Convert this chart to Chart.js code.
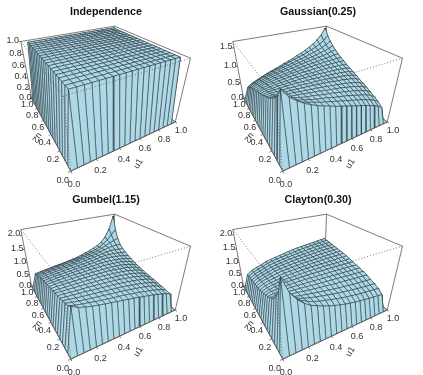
<!DOCTYPE html>
<html lang="en">

<head>
  <meta charset="UTF-8" />
  <title>Copulas</title>
  <script src="https://cdn.jsdelivr.net/npm/chart.js"></script>
  <style>
    body { margin: 0; background: #fff; }
    #page { position: relative; width: 423px; height: 375px; overflow: hidden; }
    #page div { position: absolute; width: 212px; height: 188px; }
  </style>
</head>

<body>
  <div id="page">
    <div style="left:0;top:0"><canvas id="c0" width="212" height="188"></canvas></div>
    <div style="left:212px;top:0"><canvas id="c1" width="212" height="188"></canvas></div>
    <div style="left:0;top:188px"><canvas id="c2" width="212" height="188"></canvas></div>
    <div style="left:212px;top:188px"><canvas id="c3" width="212" height="188"></canvas></div>
  </div>
  <script>
    // values, rows are u2 = 0.05 ... 0.95, columns u1 = 0.05 ... 0.95
    // the rim of the grid (u = 0 and u = 1) sits on the floor
    const independence = [
      [1,1,1,1,1,1,1,1,1,1,1,1,1,1,1,1,1,1,1],
      [1,1,1,1,1,1,1,1,1,1,1,1,1,1,1,1,1,1,1],
      [1,1,1,1,1,1,1,1,1,1,1,1,1,1,1,1,1,1,1],
      [1,1,1,1,1,1,1,1,1,1,1,1,1,1,1,1,1,1,1],
      [1,1,1,1,1,1,1,1,1,1,1,1,1,1,1,1,1,1,1],
      [1,1,1,1,1,1,1,1,1,1,1,1,1,1,1,1,1,1,1],
      [1,1,1,1,1,1,1,1,1,1,1,1,1,1,1,1,1,1,1],
      [1,1,1,1,1,1,1,1,1,1,1,1,1,1,1,1,1,1,1],
      [1,1,1,1,1,1,1,1,1,1,1,1,1,1,1,1,1,1,1],
      [1,1,1,1,1,1,1,1,1,1,1,1,1,1,1,1,1,1,1],
      [1,1,1,1,1,1,1,1,1,1,1,1,1,1,1,1,1,1,1],
      [1,1,1,1,1,1,1,1,1,1,1,1,1,1,1,1,1,1,1],
      [1,1,1,1,1,1,1,1,1,1,1,1,1,1,1,1,1,1,1],
      [1,1,1,1,1,1,1,1,1,1,1,1,1,1,1,1,1,1,1],
      [1,1,1,1,1,1,1,1,1,1,1,1,1,1,1,1,1,1,1],
      [1,1,1,1,1,1,1,1,1,1,1,1,1,1,1,1,1,1,1],
      [1,1,1,1,1,1,1,1,1,1,1,1,1,1,1,1,1,1,1],
      [1,1,1,1,1,1,1,1,1,1,1,1,1,1,1,1,1,1,1],
      [1,1,1,1,1,1,1,1,1,1,1,1,1,1,1,1,1,1,1]
    ];
    const gaussian = [
      [1.66,1.47,1.35,1.25,1.17,1.10,1.04,.99,.93,.885,.84,.79,.74,.70,.65,.60,.54,.48,.39],
      [1.47,1.34,1.26,1.19,1.14,1.09,1.04,1.00,.96,.92,.88,.84,.80,.76,.72,.67,.62,.56,.48],
      [1.35,1.26,1.20,1.15,1.11,1.07,1.03,1.00,.97,.93,.90,.87,.84,.80,.76,.72,.68,.62,.54],
      [1.25,1.19,1.15,1.12,1.08,1.05,1.03,1.00,.97,.95,.92,.89,.86,.83,.80,.76,.72,.67,.60],
      [1.17,1.14,1.11,1.08,1.06,1.04,1.02,1.00,.98,.95,.93,.91,.89,.86,.83,.80,.76,.72,.65],
      [1.10,1.09,1.07,1.05,1.04,1.02,1.01,.99,.98,.96,.94,.92,.90,.88,.86,.83,.80,.76,.70],
      [1.04,1.04,1.03,1.03,1.02,1.01,1.00,.99,.98,.96,.95,.94,.92,.90,.89,.86,.84,.80,.74],
      [.99,1.00,1.00,1.00,1.00,.99,.99,.98,.97,.97,.96,.95,.94,.92,.91,.89,.87,.84,.79],
      [.93,.96,.97,.97,.98,.98,.98,.97,.97,.97,.96,.96,.95,.94,.93,.92,.90,.88,.84],
      [.885,.92,.93,.95,.95,.96,.96,.97,.97,.97,.97,.97,.96,.96,.95,.95,.93,.92,.885],
      [.84,.88,.90,.92,.93,.94,.95,.96,.96,.97,.97,.97,.98,.98,.98,.97,.97,.96,.93],
      [.79,.84,.87,.89,.91,.92,.94,.95,.96,.97,.97,.98,.99,.99,1.00,1.00,1.00,1.00,.99],
      [.74,.80,.84,.86,.89,.90,.92,.94,.95,.96,.98,.99,1.00,1.01,1.02,1.03,1.03,1.04,1.04],
      [.70,.76,.80,.83,.86,.88,.90,.92,.94,.96,.98,.99,1.01,1.02,1.04,1.05,1.07,1.09,1.10],
      [.65,.72,.76,.80,.83,.86,.89,.91,.93,.95,.98,1.00,1.02,1.04,1.06,1.08,1.11,1.14,1.17],
      [.60,.67,.72,.76,.80,.83,.86,.89,.92,.95,.97,1.00,1.03,1.05,1.08,1.12,1.15,1.19,1.25],
      [.54,.62,.68,.72,.76,.80,.84,.87,.90,.93,.97,1.00,1.03,1.07,1.11,1.15,1.20,1.26,1.35],
      [.48,.56,.62,.67,.72,.76,.80,.84,.88,.92,.96,1.00,1.04,1.09,1.14,1.19,1.26,1.34,1.47],
      [.39,.48,.54,.60,.65,.70,.74,.79,.84,.885,.93,.99,1.04,1.10,1.17,1.25,1.35,1.47,1.66]
    ];
    const gumbel = [
      [1.44,1.33,1.27,1.22,1.18,1.14,1.11,1.07,1.04,1.00,.97,.93,.89,.85,.81,.76,.71,.65,.585],
      [1.33,1.27,1.23,1.20,1.16,1.13,1.10,1.07,1.05,1.02,.99,.95,.92,.88,.84,.80,.75,.69,.61],
      [1.27,1.23,1.20,1.17,1.15,1.12,1.10,1.07,1.05,1.03,1.00,.97,.94,.91,.87,.83,.78,.72,.64],
      [1.22,1.20,1.17,1.15,1.13,1.11,1.09,1.07,1.05,1.03,1.01,.98,.95,.92,.89,.85,.80,.74,.66],
      [1.18,1.16,1.15,1.13,1.13,1.10,1.09,1.07,1.05,1.04,1.02,.99,.97,.94,.91,.87,.83,.77,.69],
      [1.14,1.13,1.12,1.11,1.10,1.10,1.08,1.07,1.06,1.04,1.03,1.01,.98,.96,.93,.89,.85,.79,.71],
      [1.11,1.10,1.10,1.09,1.09,1.08,1.08,1.07,1.06,1.05,1.03,1.02,1.00,.97,.95,.91,.87,.81,.73],
      [1.07,1.07,1.07,1.07,1.07,1.07,1.07,1.06,1.06,1.05,1.04,1.03,1.01,.99,.97,.93,.89,.84,.76],
      [1.04,1.05,1.05,1.05,1.05,1.06,1.06,1.06,1.055,1.05,1.05,1.04,1.02,1.00,.98,.96,.91,.86,.79],
      [1.00,1.02,1.03,1.03,1.04,1.04,1.05,1.05,1.05,1.05,1.05,1.04,1.04,1.02,1.01,.98,.94,.88,.82],
      [.97,.99,1.00,1.01,1.02,1.03,1.03,1.04,1.05,1.05,1.06,1.06,1.05,1.04,1.03,1.01,.97,.92,.87],
      [.93,.95,.97,.98,.99,1.01,1.02,1.03,1.04,1.04,1.06,1.07,1.07,1.06,1.05,1.03,1.00,.96,.92],
      [.89,.92,.94,.95,.97,.98,1.00,1.01,1.02,1.04,1.05,1.07,1.09,1.09,1.08,1.06,1.04,1.00,.97],
      [.85,.88,.91,.92,.94,.96,.97,.99,1.00,1.02,1.04,1.06,1.09,1.11,1.11,1.10,1.08,1.05,1.04],
      [.81,.84,.87,.89,.91,.93,.95,.97,.98,1.01,1.03,1.05,1.08,1.11,1.13,1.15,1.14,1.12,1.11],
      [.76,.80,.83,.85,.87,.89,.91,.93,.96,.98,1.01,1.03,1.06,1.10,1.15,1.19,1.21,1.22,1.22],
      [.71,.75,.78,.80,.83,.85,.87,.89,.91,.94,.97,1.00,1.04,1.08,1.14,1.21,1.29,1.34,1.40],
      [.65,.69,.72,.74,.77,.79,.81,.84,.86,.88,.92,.96,1.00,1.05,1.12,1.22,1.34,1.52,1.69],
      [.585,.61,.64,.66,.69,.71,.73,.76,.79,.82,.87,.92,.97,1.04,1.11,1.22,1.40,1.69,2.19]
    ];
    const clayton = [
      [2.17,1.72,1.47,1.29,1.16,1.07,.99,.92,.86,.81,.76,.72,.69,.66,.635,.61,.59,.57,.547],
      [1.72,1.51,1.37,1.25,1.16,1.08,1.02,.98,.93,.89,.85,.82,.79,.76,.74,.72,.70,.68,.67],
      [1.47,1.37,1.28,1.20,1.13,1.08,1.04,1.00,.97,.93,.90,.87,.85,.82,.80,.78,.76,.75,.74],
      [1.29,1.25,1.20,1.14,1.10,1.07,1.04,1.01,.98,.96,.93,.91,.89,.87,.85,.84,.83,.81,.80],
      [1.16,1.16,1.13,1.10,1.09,1.06,1.04,1.02,1.00,.99,.97,.95,.94,.93,.915,.90,.89,.88,.87],
      [1.07,1.08,1.08,1.07,1.06,1.05,1.04,1.02,1.01,1.00,.99,.98,.97,.96,.95,.94,.93,.92,.91],
      [.99,1.02,1.04,1.04,1.04,1.04,1.03,1.03,1.02,1.01,1.00,1.00,.99,.98,.98,.97,.96,.96,.95],
      [.92,.98,1.00,1.01,1.02,1.02,1.03,1.03,1.02,1.02,1.02,1.01,1.01,1.01,1.00,1.00,.99,.99,.98],
      [.86,.93,.97,.98,1.00,1.01,1.02,1.02,1.03,1.03,1.03,1.03,1.03,1.03,1.03,1.03,1.02,1.02,1.02],
      [.81,.89,.93,.96,.99,1.00,1.01,1.02,1.03,1.04,1.04,1.04,1.05,1.05,1.05,1.05,1.05,1.05,1.06],
      [.76,.85,.90,.93,.97,.99,1.00,1.02,1.03,1.04,1.05,1.05,1.06,1.06,1.07,1.07,1.08,1.08,1.09],
      [.72,.82,.87,.91,.95,.98,1.00,1.01,1.03,1.04,1.05,1.06,1.07,1.08,1.09,1.09,1.10,1.11,1.12],
      [.69,.79,.85,.89,.94,.97,.99,1.01,1.03,1.05,1.06,1.07,1.08,1.09,1.10,1.11,1.12,1.13,1.14],
      [.66,.76,.82,.87,.93,.96,.98,1.01,1.03,1.05,1.06,1.08,1.09,1.11,1.12,1.13,1.14,1.15,1.16],
      [.635,.74,.80,.85,.915,.95,.98,1.00,1.03,1.05,1.07,1.09,1.10,1.12,1.14,1.15,1.16,1.17,1.18],
      [.61,.72,.78,.84,.90,.94,.97,1.00,1.03,1.05,1.07,1.09,1.11,1.13,1.15,1.16,1.18,1.19,1.20],
      [.59,.70,.76,.83,.89,.93,.96,.99,1.02,1.05,1.08,1.10,1.12,1.14,1.16,1.18,1.19,1.21,1.22],
      [.57,.68,.75,.81,.88,.92,.96,.99,1.02,1.05,1.08,1.11,1.13,1.15,1.17,1.19,1.21,1.23,1.24],
      [.547,.67,.74,.80,.87,.91,.95,.98,1.02,1.06,1.09,1.12,1.14,1.16,1.18,1.20,1.22,1.24,1.26]
    ];
    const gridU = [0,.05,.1,.15,.2,.25,.3,.35,.4,.45,.5,.55,.6,.65,.7,.75,.8,.85,.9,.95,1];
    const uTicks = [0,.2,.4,.6,.8,1];
    const titles = ["Independence", "Gaussian(0.25)", "Gumbel(1.15)", "Clayton(0.30)"];
    const surfaces = [independence, gaussian, gumbel, clayton];
    const zTops = [1, 1.66, 2.19, 2.17];
    const zTicks = [[0,.2,.4,.6,.8,1], [0,.5,1,1.5], [0,.5,1,1.5,2], [0,.5,1,1.5,2]];

    // same view as R persp(theta=-30, phi=30, r=sqrt(3), d=1)
    const theta = -30 * Math.PI / 180, phi = 30 * Math.PI / 180, r = Math.sqrt(3), d = 1, expand = 0.61;
    const pxPerUnit = 211, originX = 97.8, originY = 81.6;
    const panelW = 212, panelH = 188;
    const titleSize = 10.7, titlePad = { top: 5.2, bottom: 4 };
    const titleH = titleSize * 1.2 + titlePad.top + titlePad.bottom;

    const inkLine = "#263238", boxLine = "#5a5a5a", textCol = "#333";

    // u1, u2 in 0..1, h in 0..1 of the z range
    function project(u1, u2, h) {
      const X = 2 * u1 - 1, Y = expand * (2 * h - 1), Z = -(2 * u2 - 1);
      const a = -theta;
      const x1 = X * Math.cos(a) + Z * Math.sin(a);
      const z1 = -X * Math.sin(a) + Z * Math.cos(a);
      const y2 = Y * Math.cos(phi) - z1 * Math.sin(phi);
      const z2 = Y * Math.sin(phi) + z1 * Math.cos(phi);
      const w = 1 - (z2 - r - d) / d;
      return { x: x1 / w, y: y2 / w };
    }

    function line(points, color, width, dash) {
      return {
        data: points, showLine: true, pointRadius: 0, borderColor: color, borderWidth: width,
        borderDash: dash || [], fill: false, clip: false, tension: 0
      };
    }

    function withRim(rows) {
      const zeros = gridU.map(() => 0);
      return [zeros].concat(rows.map(row => [0].concat(row, [0])), [zeros]);
    }

    // labels are text on the canvas, placed from the same projection
    const labelPlugin = {
      id: "perspLabels",
      afterDraw(chart) {
        const ctx = chart.ctx, sx = chart.scales.x, sy = chart.scales.y;
        ctx.save();
        ctx.fillStyle = textCol;
        ctx.textAlign = "center";
        ctx.textBaseline = "middle";
        ctx.font = "9px 'Liberation Sans'";
        chart.options.plugins.perspLabels.items.forEach(l => {
          ctx.save();
          ctx.translate(sx.getPixelForValue(l.p.x) + l.dx, sy.getPixelForValue(l.p.y) + l.dy);
          if (l.rot) ctx.rotate(l.rot);
          ctx.fillText(l.text, 0, 0);
          ctx.restore();
        });
        ctx.restore();
      }
    };

    function drawPanel(n) {
      const z = withRim(surfaces[n]), top = zTops[n];
      const back = [], facets = [], front = [], items = [];

      // box behind the surface
      const G = project(0, 1, 1), H = project(1, 1, 1), F = project(1, 0, 1), E = project(0, 0, 1);
      const A = project(0, 0, 0), B = project(1, 0, 0), C = project(0, 1, 0), D = project(1, 1, 0);
      back.push(line([C, G, H, F, B, D, C], boxLine, 0.8));
      back.push(line([H, D], boxLine, 0.8));

      // far corner first so the near facets paint over
      for (let i = gridU.length - 2; i >= 0; i--) {
        for (let j = gridU.length - 2; j >= 0; j--) {
          const pts = [[i, j], [i + 1, j], [i + 1, j + 1], [i, j + 1], [i, j]]
            .map(q => project(gridU[q[0]], gridU[q[1]], z[q[1]][q[0]] / top));
          const f = line(pts, inkLine, 0.55);
          f.fill = "shape";
          f.backgroundColor = "#ADD8E6";
          facets.push(f);
        }
      }

      // near edges of the box are dotted and go over the surface
      front.push(line([G, E, F], boxLine, 0.8, [1, 2]));
      front.push(line([E, A], boxLine, 0.8, [1, 2]));
      front.push(line([C, A, B], boxLine, 0.9));

      uTicks.forEach(t => {
        front.push(line([project(t, 0, 0), project(t, -0.02, 0)], boxLine, 0.8));
        front.push(line([project(0, t, 0), project(-0.02, t, 0)], boxLine, 0.8));
        items.push({ text: t.toFixed(1), p: project(t, -0.085, 0), dx: -2, dy: 3 });
        items.push({ text: t.toFixed(1), p: project(-0.085, t, 0), dx: 4, dy: 4 });
      });
      zTicks[n].forEach(t => {
        front.push(line([project(0, 1, t / top), project(-0.02, 1, t / top)], boxLine, 0.8));
        items.push({ text: t.toFixed(1), p: project(-0.085, 1, t / top), dx: 2, dy: -3 });
      });
      items.push({ text: "u1", p: project(0.5, -0.2, 0), dx: -9, dy: 2, rot: -60 * Math.PI / 180 });
      items.push({ text: "u2", p: project(-0.2, 0.5, 0), dx: 14, dy: 2, rot: 130 * Math.PI / 180 });

      // chart.js paints the last dataset first
      const datasets = front.reverse().concat(facets.reverse(), back.reverse());

      new Chart(document.getElementById("c" + n), {
        type: "scatter",
        data: { datasets: datasets },
        plugins: [labelPlugin],
        options: {
          responsive: false,
          animation: false,
          events: [],
          layout: { padding: 0 },
          scales: {
            x: { type: "linear", display: false, min: -originX / pxPerUnit, max: (panelW - originX) / pxPerUnit },
            y: { type: "linear", display: false, min: (originY - panelH) / pxPerUnit, max: (originY - titleH) / pxPerUnit }
          },
          plugins: {
            legend: { display: false },
            tooltip: { enabled: false },
            title: {
              display: true,
              text: titles[n],
              color: "#111",
              font: { family: "'Liberation Sans'", size: titleSize, weight: "bold", lineHeight: 1.2 },
              padding: titlePad
            },
            perspLabels: { items: items }
          }
        }
      });
    }

    for (let n = 0; n < 4; n++) drawPanel(n);
  </script>
</body>

</html>
